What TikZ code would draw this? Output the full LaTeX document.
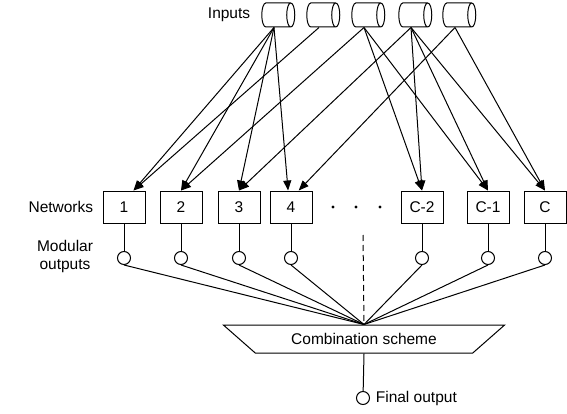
\documentclass[tikz,border=0pt]{standalone}
\usepackage{fontspec}
\setmainfont{Liberation Sans}
\usetikzlibrary{shapes.geometric,arrows.meta}

\begin{document}
\begin{tikzpicture}[x=1pt,y=1pt,font=\fontsize{15.5}{18}\selectfont,line width=1pt]
        \useasboundingbox (0,0) rectangle (567,-414);
        % inputs
        \begin{scope}[every node/.style={cylinder,draw,aspect=0.35,minimum width=24pt,minimum height=33pt,inner xsep=0pt,inner ysep=11.5pt}]
          \node (i1) at (274,-15) {};
          \node (i2) at (319,-15) {};
          \node (i3) at (364,-15) {};
          \node (i4) at (411,-15) {};
          \node (i5) at (455,-15) {};
        \end{scope}
        % networks
        \begin{scope}[every node/.style={rectangle,draw,minimum width=42pt,minimum height=32pt}]
          \node (n1) at (124,-207) {1};
          \node (n2) at (181,-207) {2};
          \node (n3) at (239,-207) {3};
          \node (n4) at (291,-207) {4};
          \node (n5) at (422,-207) {C-2};
          \node (n6) at (488,-207) {C-1};
          \node (n7) at (545,-207) {C};
        \end{scope}
        % modular outputs
        \begin{scope}[every node/.style={circle,draw,minimum size=13pt,inner sep=0pt}]
          \node (o1) at (124,-258) {};
          \node (o2) at (181,-258) {};
          \node (o3) at (239,-258) {};
          \node (o4) at (291,-258) {};
          \node (o5) at (422,-258) {};
          \node (o6) at (488,-258) {};
          \node (o7) at (545,-258) {};
          \node (out) at (363,-398) {};
        \end{scope}
        \node[trapezium,draw,trapezium stretches=true,shape border rotate=180,
              trapezium angle=39,minimum width=282pt,minimum height=28pt] (comb) at (364,-339) {Combination scheme};
        \coordinate (gap) at (363,-235);
        % labels
        \node[anchor=east] (inl) at (254,-15) {Inputs};
        \node[anchor=east] (netl) at (97,-207) {Networks};
        \node[align=center] (modl) at (65,-256) {Modular\\outputs};
        \node[anchor=west] (outl) at (372,-398) {Final output};
        \fill (333,-207) circle (1.6pt) (356,-207) circle (1.6pt) (380,-207) circle (1.6pt);
        \begin{scope}[every edge/.style={draw=black,-{Triangle[length=10pt,width=8pt]}}]
          \path (i1.south) edge (n1.60);
          \path (i1.south) edge (n2.north);
          \path (i1.south) edge (n3.north);
          \path (i1.south) edge (n4.100);
          \path (i2.south) edge (n1.60);
          \path (i3.south) edge (n2.north);
          \path (i3.south) edge (n5.north);
          \path (i3.south) edge (n6.north);
          \path (i4.south) edge (n3.north);
          \path (i4.south) edge (n5.north);
          \path (i4.south) edge (n6.north);
          \path (i4.south) edge (n7.north);
          \path (i5.south) edge (n4.65);
          \path (i5.south) edge (n7.north);
        \end{scope}
        \begin{scope}[every edge/.style={draw=black}]
          \path (n1) edge (o1);
          \path (n2) edge (o2);
          \path (n3) edge (o3);
          \path (n4) edge (o4);
          \path (n5) edge (o5);
          \path (n6) edge (o6);
          \path (n7) edge (o7);
          \path (o1.south) edge (comb.north);
          \path (o2.south) edge (comb.north);
          \path (o3.south) edge (comb.north);
          \path (o4.south) edge (comb.north);
          \path (o5.south) edge (comb.north);
          \path (o6.south) edge (comb.north);
          \path (o7.south) edge (comb.north);
          \path (comb.south) edge (out);
          \path (gap) edge[dashed,dash pattern=on 6pt off 4pt] (comb.north);
        \end{scope}
  		\end{tikzpicture}
\end{document}
